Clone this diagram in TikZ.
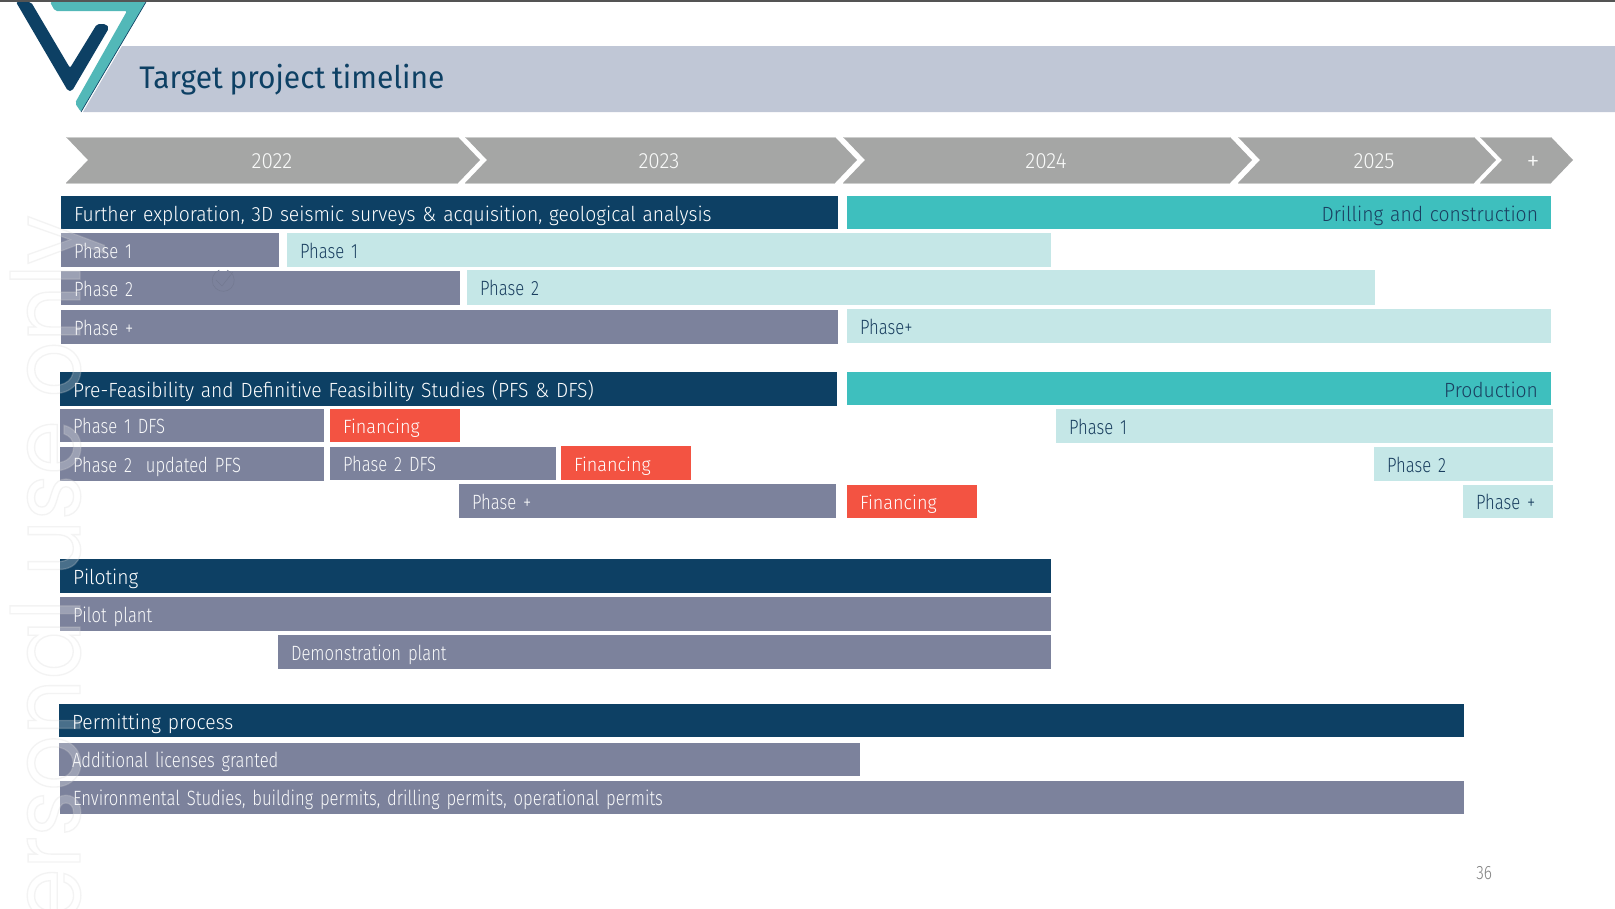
\documentclass[tikz,border=0pt]{standalone}
\usepackage{fontspec}
\setmainfont{Fira Sans}[UprightFont=* Light]
\newfontfamily\bodyf{Fira Sans}[UprightFont=* Light,FakeStretch=0.805,WordSpace=0.5]
\newfontfamily\headf{Fira Sans}[UprightFont=* Light,FakeStretch=0.94,WordSpace=0.5]
\newfontfamily\titlef{Fira Sans}[FakeStretch=0.96,WordSpace=0.85]
\newfontfamily\wmf{Poppins}[FakeStretch=0.92]
\definecolor{navy}{HTML}{0D4064}
\definecolor{slate}{HTML}{7C829C}
\definecolor{pale}{HTML}{C5E7E7}
\definecolor{teal2}{HTML}{3EBFBE}
\definecolor{tomato}{HTML}{F35342}
\definecolor{chev}{HTML}{A5A6A5}
\definecolor{band}{HTML}{C0C7D6}
\definecolor{logoteal}{HTML}{52B8B8}
\definecolor{inkblue}{HTML}{1A3F60}
\tikzset{
  x=0.75pt,y=-0.75pt,
  barbase/.style={anchor=north west,inner sep=0pt,outer sep=0pt,text height=13.5pt,text depth=1.5pt,font=\bodyf\fontsize{15.5}{17}\selectfont},
  gbar/.style={barbase,fill=slate,text=white!95!slate},
  lbar/.style={barbase,fill=pale,text=inkblue},
  rbar/.style={barbase,fill=tomato,text=white,font=\headf\fontsize{14.4}{17}\selectfont},
  dbar/.style={barbase,text height=14.5pt,fill=navy,text=white,font=\headf\fontsize{15.4}{17}\selectfont},
  tbar/.style={barbase,text height=14.5pt,fill=teal2,text=inkblue,font=\headf\fontsize{15.4}{17}\selectfont},
  chevron/.style={fill=chev},
  chevedge/.style={draw=chev!55,line width=0.5pt},
  yearlabel/.style={text=white!95!chev,font=\headf\fontsize{16.5}{18}\selectfont,inner sep=0pt},
}
% name, x0, y0, x1, y1, style, text
\newcommand\gantt[7]{%
  \node[#6,minimum width={(#4-#2)*0.75pt},minimum height={(#5-#3)*0.75pt},
        text width={(#4-#2-26)*0.75pt},align=left] (#1) at (#2,#3) {#7};}
\newcommand\ganttr[7]{%
  \node[#6,minimum width={(#4-#2)*0.75pt},minimum height={(#5-#3)*0.75pt},
        text width={(#4-#2-26)*0.75pt},align=right] (#1) at (#2,#3) {#7};}
\newcommand\chevshape[2]{% left-top x, right-top x
  \fill[chevron] (#1,137) -- (#2,137) -- (#2+22,160) -- (#2,183) -- (#1,183) -- (#1+22,160) -- cycle;
  \draw[chevedge] (#1,137) -- (#2,137) (#1,183) -- (#2,183);}
\begin{document}
\begin{tikzpicture}
\useasboundingbox (0,0) rectangle (1615,908);
\fill[white] (0,0) rectangle (1615,908);
% title band
\fill[band] (122,46) -- (1615,46) -- (1615,112) -- (83,112) -- cycle;
\fill[black!67] (0,0) rectangle (1615,2);
% logo
\fill[navy,rounded corners=1.5pt] (16,2) -- (68,91) -- (72,91) -- (109,28) -- (106,24) -- (97,24) -- (70,68) -- (31,2) -- cycle;
\fill[logoteal,rounded corners=1.5pt] (50,2) -- (55,11) -- (127,11) -- (75,103) -- (81,112) -- (146,2) -- cycle;
\draw[navy,line width=0.5pt] (146,2) -- (81,112);
\node[anchor=base west,inner sep=0pt,text=navy,font=\titlef\fontsize{23.4}{25}\selectfont] (title) at (139,88) {Target project timeline};
% chevrons
\chevshape{66}{458}
\chevshape{465}{835}
\chevshape{843}{1230}
\chevshape{1238}{1474}
\chevshape{1480}{1551}
\node[yearlabel] (y22) at (272,161) {2022};
\node[yearlabel] (y23) at (659,161) {2023};
\node[yearlabel] (y24) at (1046,161) {2024};
\node[yearlabel] (y25) at (1374,161) {2025};
\node[yearlabel,font=\headf\fontsize{21}{22}\selectfont] (y26) at (1533,163) {+};
% block 1
\gantt{a0}{61}{196}{838}{229}{dbar}{Further exploration, 3D seismic surveys \& acquisition, geological analysis}
\ganttr{a0r}{847}{196}{1551}{229}{tbar}{Drilling and construction}
\gantt{a1}{61}{233}{279}{267}{gbar}{Phase 1}
\gantt{a1r}{287}{233}{1051}{267}{lbar}{Phase 1}
\gantt{a2}{61}{271}{460}{305}{gbar}{Phase 2}
\gantt{a2r}{467}{270}{1375}{305}{lbar}{Phase 2}
\gantt{a3}{61}{310}{838}{344}{gbar}{Phase +}
\gantt{a3r}{847}{309}{1551}{343}{lbar}{Phase+}
% block 2
\gantt{b0}{60}{372}{837}{406}{dbar}{Pre-Feasibility and Definitive Feasibility Studies (PFS \& DFS)}
\ganttr{b0r}{847}{372}{1551}{405}{tbar}{Production}
\gantt{b1}{60}{409}{324}{442}{gbar}{Phase 1 DFS}
\gantt{b1f}{330}{409}{460}{442}{rbar}{Financing}
\gantt{b1r}{1056}{409}{1553}{443}{lbar}{Phase 1}
\gantt{b2}{60}{447}{324}{481}{gbar}{Phase 2~ updated PFS}
\gantt{b2d}{330}{447}{556}{480}{gbar}{Phase 2 DFS}
\gantt{b2f}{561}{446}{691}{480}{rbar}{Financing}
\gantt{b2r}{1374}{447}{1553}{481}{lbar}{Phase 2}
\gantt{b3}{459}{484}{836}{518}{gbar}{Phase +}
\gantt{b3f}{847}{485}{977}{518}{rbar}{Financing}
\gantt{b3r}{1463}{485}{1553}{518}{lbar}{Phase +}
% block 3
\gantt{c0}{60}{559}{1051}{593}{dbar}{Piloting}
\gantt{c1}{60}{597}{1051}{631}{gbar}{Pilot plant}
\gantt{c2}{278}{635}{1051}{669}{gbar}{Demonstration plant}
% block 4
\gantt{d0}{59}{704}{1464}{737}{dbar}{Permitting process}
\gantt{d1}{59}{743}{860}{776}{gbar}{Additional licenses granted}
\gantt{d2}{60}{781}{1464}{814}{gbar}{Environmental Studies, building permits, drilling permits, operational permits}
\node[anchor=base west,inner sep=0pt,text=black!50,font=\bodyf\fontsize{14.5}{16}\selectfont] (pg) at (1476,879) {36};
% faint tick mark
\draw[slate!93!black,line width=0.4pt] (227,270) arc (-70:250:11);
\draw[slate!93!black,line width=0.4pt] (216,280) -- (222,286) -- (233,272);
% watermark
\begin{scope}
\clip (0,0) rectangle (1615,908);
\node[rotate=90,anchor=base west,inner sep=0pt,text=white,text opacity=.25,font=\wmf\fontsize{71}{80}\selectfont] (wm) at (80,923)
  {\special{pdf:code q 2 Tr 1 w 0.82 0.82 0.82 RG}ersonal use only\special{pdf:code Q}};
\end{scope}
\end{tikzpicture}
\end{document}
